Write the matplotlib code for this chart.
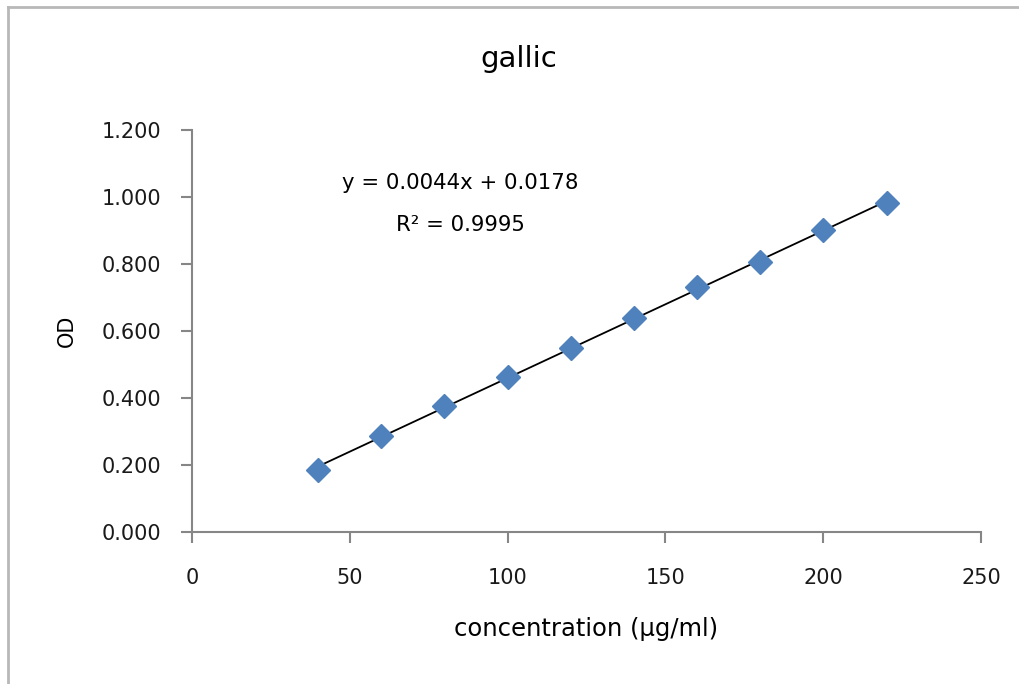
import numpy as np
import matplotlib.pyplot as plt
from matplotlib.lines import Line2D

# gallic acid standard curve
concentration = [40, 60, 80, 100, 120, 140, 160, 180, 200, 220]
od = [0.185, 0.287, 0.376, 0.463, 0.549, 0.639, 0.731, 0.806, 0.901, 0.982]
x_ticks = [0, 50, 100, 150, 200, 250]
y_ticks = [0.0, 0.2, 0.4, 0.6, 0.8, 1.0, 1.2]
equation_text = "y = 0.0044x + 0.0178"
r2_text = "R² = 0.9995"

plt.rcParams['font.family'] = ['DejaVu Sans']

fig = plt.figure(figsize=(10.2, 6.84), dpi=100)
ax = fig.add_axes([0.188, 0.222, 0.774, 0.588])

# linear trendline from the data
slope, intercept = np.polyfit(concentration, od, 1)
xs = np.array([min(concentration), max(concentration)])
ax.plot(xs, slope * xs + intercept, color='black', lw=1.3, zorder=2)

ax.plot(concentration, od, linestyle='none', marker='D', markersize=12,
        color='#4F81BD', markeredgecolor='#4F81BD', zorder=3)

ax.set_xlim(0, 250)
ax.set_ylim(0, 1.2)
ax.set_xticks(x_ticks)
ax.set_yticks(y_ticks)
ax.set_yticklabels([f"{v:.3f}" for v in y_ticks])

for side in ['top', 'right']:
    ax.spines[side].set_visible(False)
for side in ['left', 'bottom']:
    ax.spines[side].set_color('#868686')
    ax.spines[side].set_linewidth(1.5)
ax.tick_params(axis='both', direction='out', length=8, width=1.5,
               color='#868686', labelsize=15, labelcolor='#1a1a1a')
ax.tick_params(axis='y', pad=14)
ax.tick_params(axis='x', pad=18)

ax.set_xlabel("concentration (µg/ml)", fontsize=17.5, labelpad=21)
ax.set_ylabel("OD", fontsize=15, labelpad=18)
fig.text(0.509, 0.914, "gallic", fontsize=21, ha='center', va='center')

fig.text(0.451, 0.7325, equation_text, fontsize=15.3, ha='center', va='center')
fig.text(0.451, 0.671, r2_text, fontsize=15.3, ha='center', va='center')

# outer chart frame (left and top edges visible)
fig.add_artist(Line2D([0.0075, 0.0075], [0, 0.99], color='#b8b8b8', lw=2,
                      transform=fig.transFigure))
fig.add_artist(Line2D([0.0075, 1.0], [0.99, 0.99], color='#b8b8b8', lw=2,
                      transform=fig.transFigure))

fig.savefig('out.png', dpi=100, facecolor='white')
